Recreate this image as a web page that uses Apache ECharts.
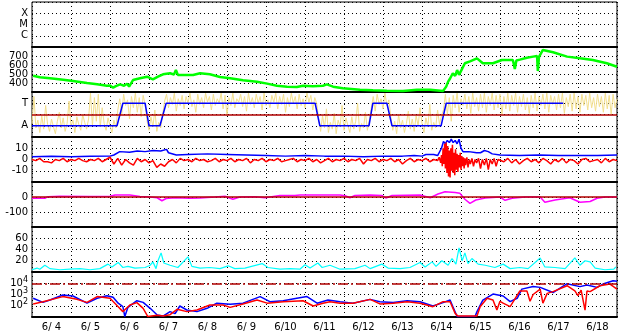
<!DOCTYPE html>
<html><head><meta charset="utf-8">
<script src="https://cdn.jsdelivr.net/npm/echarts@6/dist/echarts.min.js"></script>
<style>html,body{margin:0;padding:0;background:#fff}#c{width:628px;height:334px}</style>
</head><body><div id="c"></div><script>
// x is days since 6/4 00:00
const dayLabels = ['6/ 4','6/ 5','6/ 6','6/ 7','6/ 8','6/ 9','6/10','6/11','6/12','6/13','6/14','6/15','6/16','6/17','6/18'];
const flareLabels = {1:'C', 2:'M', 3:'X'};
const sectorLabels = {1:'A', 3:'T'};
const logLabels = {100:'2', 1000:'3', 10000:'4'};

const flares = [];

const speed = [[0.03,481],[0.2,463],[0.46,452],[0.8,437],[1.05,422],[1.41,400],[1.67,385],[1.92,370],[2.0,372],[2.08,348],[2.15,365],[2.26,385],[2.36,370],[2.44,392],[2.49,360],[2.59,433],[2.77,452],[2.95,470],[3.1,441],[3.23,470],[3.36,497],[3.54,508],[3.64,495],[3.69,544],[3.74,490],[3.87,489],[4.13,489],[4.31,508],[4.56,497],[4.82,467],[5.08,452],[5.41,430],[5.77,415],[6.03,393],[6.28,370],[6.54,359],[6.79,355],[6.95,370],[7.2,363],[7.46,370],[7.56,385],[7.72,359],[7.97,341],[8.41,326],[8.74,319],[9.1,315],[9.51,311],[9.87,326],[10.21,326],[10.54,311],[10.62,360],[10.67,415],[10.72,450],[10.79,508],[10.85,480],[10.9,544],[10.95,490],[10.97,470],[11.03,560],[11.1,619],[11.23,640],[11.41,674],[11.56,619],[11.82,619],[12.05,656],[12.33,656],[12.38,556],[12.42,650],[12.51,660],[12.69,681],[12.85,693],[12.95,700],[12.97,533],[13.0,690],[13.1,767],[13.36,741],[13.72,693],[14.05,674],[14.38,656],[14.74,619],[15.0,581]];

// IMF angle, sampled every 0.05 day from 6/4 00:00 (0..4 panel scale, A=1, T=3)
const phiStep = 0.05;
const phi = [
1.2,3.6,0.8,1.5,0.4,1.9,0.7,2.8,1.1,0.5,1.6,0.9,0.3,1.4,2.2,0.8,1.7,0.5,1.2,3.2,
0.9,1.5,0.4,1.8,1.1,0.6,2.0,1.3,0.7,1.6,3.9,1.0,3.5,1.4,3.8,0.9,2.6,1.2,0.6,1.7,
1.0,0.4,1.5,0.8,
2.4,3.4,2.0,3.8,2.8,3.3,1.6,3.6,2.6,3.9,2.2,3.5,1.8,3.7,2.9,
1.4,0.6,1.8,0.9,2.4,0.5,1.3,0.8,2.0,
3.2,3.8,2.6,3.5,2.9,3.9,2.3,3.4,2.8,3.7,
2.5,3.6,3.0,3.9,2.7,3.3,2.2,3.8,2.9,3.5,
2.6,3.9,3.1,3.6,2.4,3.8,2.8,3.4,3.0,3.9,
2.5,3.7,1.9,3.5,2.8,3.9,2.6,3.4,3.1,3.8,
2.7,3.6,2.3,3.9,2.9,3.5,2.6,3.8,3.0,3.6,
2.4,3.9,2.8,3.3,2.6,3.7,3.1,3.9,2.5,3.6,
2.9,3.8,2.2,3.5,2.7,3.9,3.0,3.6,2.5,3.8,
2.8,3.4,2.6,3.9,3.1,3.7,2.4,3.5,3.0,
1.6,0.5,1.9,0.8,2.5,0.4,1.3,0.7,2.1,0.3,1.5,0.9,2.8,0.6,1.7,1.0,0.4,1.8,0.7,1.4,3.0,0.5,1.2,0.8,2.2,0.6,1.5,
2.6,3.6,2.3,3.8,2.9,3.4,2.5,3.9,2.8,3.3,
1.8,0.6,1.4,0.3,2.0,0.8,1.5,0.4,1.2,2.3,0.7,1.6,0.5,1.9,1.0,2.6,1.2,0.4,1.7,0.9,2.9,0.6,1.3,0.8,2.4,1.1,1.9,
2.4,3.8,2.0,3.5,1.4,3.7,2.6,3.9,2.2,3.4,
2.8,3.8,2.5,3.6,2.1,3.9,2.7,3.5,2.3,3.8,
2.6,3.9,2.2,3.6,2.8,3.9,2.4,3.7,2.6,3.8,
2.0,3.6,2.5,3.9,2.3,3.7,2.8,3.9,2.2,3.6,
2.7,3.8,2.4,3.5,2.1,3.7,2.6,3.9,2.3,3.6,
2.8,3.8,2.5,3.9,2.2,3.7,2.9,3.6,2.4,3.8,
2.6,3.9,2.1,3.5,2.7,3.8,2.3,3.9,2.5,3.6,
2.2,3.8,2.8,3.7,2.4,3.9,2.6,3.5,2.3,3.8,
2.7,3.6,2.2,3.9,2.5,3.7,2.0,3.8,2.6,3.4];

const sector = [[0,1],[2.18,1],[2.33,3],[2.9,3],[3.0,1],[3.28,1],[3.44,3],[7.26,3],[7.38,1],[8.64,1],[8.74,3],[9.1,3],[9.23,1],[10.49,1],[10.62,3],[13.62,3]];

const bt = [[0,2.5],[0.5,2.8],[1.0,2.5],[1.5,2.8],[2.0,3.0],[2.1,4],[2.25,7],[2.5,6.5],[2.7,7.5],[2.9,7],[3.1,8],[3.3,7.5],[3.45,9],[3.5,6],[3.7,4],[4.0,4.5],[4.5,5],[5.0,4.5],[5.5,4],[6.0,3.5],[6.5,3],[7.0,3.5],[7.5,3],[8.0,3],[8.5,2.5],[9.0,3],[9.5,3],[9.8,3.5],[10.0,3],[10.1,4.5],[10.3,4.5],[10.4,3.5],[10.5,10],[10.55,16],[10.6,14],[10.65,17],[10.7,15],[10.75,18],[10.8,15],[10.85,17],[10.9,14],[10.95,18],[11.0,10],[11.05,7],[11.2,7],[11.4,6],[11.5,6],[11.6,8],[11.7,7],[11.8,5],[12.0,4],[12.5,3.5],[13.0,4],[13.5,3.5],[14.0,3.5],[14.5,3.5],[15.0,4]];

// Bz before the storm, every 0.1 day from 0 to 10.3
const bzQuietStep = 0.1;
const bzQuiet = [
0,-1,1,-2,-2,-3,0,-1,1,-2,
0,-1,1,-1,-2,0,-1,1,-2,0,
2,-4,1,-5,0,-3,-5,1,-2,0,
-3,-1,-7,-4,-6,-2,0,-3,1,-1,
0,-2,1,-1,0,-2,-1,1,-2,0,
-1,1,-2,0,-1,1,-3,0,-1,1,
-2,0,-1,1,-2,-1,0,1,-2,0,
-1,1,-2,0,-3,-1,1,-2,0,-1,
1,-2,0,-1,1,-4,0,-1,1,-2,
0,-1,1,-2,0,-4,-1,1,-2,0,
-1,1,-2,0];
const bzStorm = [[10.4,-1],[10.44,2],[10.48,-3],[10.5,4],[10.52,-6],[10.54,10],[10.56,-4],[10.58,14],[10.6,-8],[10.62,15],[10.64,-12],[10.66,12],[10.68,-15],[10.7,8],[10.72,-16],[10.74,10],[10.76,-10],[10.78,13],[10.8,-12],[10.82,6],[10.84,-14],[10.86,9],[10.88,-9],[10.9,5],[10.92,-11],[10.94,4],[10.96,-7],[10.98,6],[11.0,-9],[11.02,3],[11.04,-6],[11.06,2],[11.08,-8],[11.1,1],[11.12,-5],[11.15,2],[11.18,-7],[11.21,0],[11.24,-4],[11.28,1],[11.32,-6],[11.36,0],[11.4,-3],[11.45,1],[11.5,-8],[11.55,0],[11.6,-5],[11.65,1],[11.7,-9],[11.75,0],[11.8,-4],[11.85,1],[11.9,-6],[11.95,0]];
// Bz after, every 0.1 day from 12.0 to 15.0
const bzLateStart = 12.0;
const bzLate = [0,-2,1,-3,0,-4,-1,1,-2,0,-3,1,-1,-4,0,-2,1,-3,0,-1,-4,0,1,-2,-1,0,-3,1,-2,0,-1];

const dst = [[0,-9],[0.33,-9],[0.41,2],[0.72,5],[1.49,3],[2.0,5],[2.13,13],[2.51,13],[2.77,3],[3.03,0],[3.21,-5],[3.33,-25],[3.44,-10],[3.67,-5],[4.05,-8],[4.31,-6],[4.69,0],[4.95,5],[5.15,-15],[5.33,0],[5.72,2],[5.97,-5],[6.36,10],[6.74,10],[6.87,13],[7.38,13],[7.9,13],[8.03,8],[8.15,-5],[8.28,10],[8.67,13],[8.97,10],[9.08,-7],[9.23,10],[9.95,13],[10.21,-5],[10.41,20],[10.59,35],[10.85,30],[10.97,25],[11.1,-15],[11.23,-42],[11.38,-20],[11.62,-7],[12.0,0],[12.13,-22],[12.31,-8],[12.64,0],[13.03,0],[13.15,-35],[13.41,-20],[13.79,-5],[14.05,-35],[14.31,-30],[14.49,-8],[14.69,0],[15,0]];

const kp = [[0,4],[0.13,7],[0.2,5],[0.33,12],[0.46,6],[0.72,4],[0.97,5],[1.23,6],[1.49,4],[1.74,6],[1.95,14],[2.05,9],[2.21,17],[2.33,8],[2.46,10],[2.64,7],[2.9,8],[3.03,12],[3.1,18],[3.18,6],[3.23,20],[3.31,34],[3.38,16],[3.54,12],[3.74,8],[4.0,27],[4.1,10],[4.31,7],[4.56,8],[4.82,6],[5.03,11],[5.2,6],[5.46,7],[5.9,15],[6.05,8],[6.36,5],[6.62,6],[6.87,5],[7.0,13],[7.13,7],[7.33,16],[7.44,8],[7.64,12],[7.9,5],[8.28,6],[8.54,12],[8.67,6],[8.97,14],[9.13,7],[9.44,6],[9.69,8],[9.95,17],[10.08,9],[10.26,18],[10.36,10],[10.51,20],[10.67,12],[10.77,24],[10.87,14],[10.95,43],[11.03,20],[11.1,34],[11.18,15],[11.28,24],[11.44,14],[11.62,12],[11.87,8],[12.08,14],[12.26,6],[12.51,8],[12.72,6],[13.03,25],[13.15,9],[13.41,8],[13.67,6],[13.92,25],[14.05,12],[14.18,20],[14.31,18],[14.44,7],[14.69,4],[14.92,5],[14.97,9]];

const fluxBlue = [[0.03,460],[0.28,200],[0.46,320],[0.79,910],[1.05,740],[1.41,170],[1.67,460],[1.92,780],[2.08,560],[2.21,170],[2.33,83],[2.38,11],[2.46,72],[2.69,280],[2.85,200],[3.03,59],[3.21,15],[3.36,12],[3.54,30],[3.67,20],[3.79,95],[3.97,42],[4.23,30],[4.49,59],[4.74,170],[5.08,135],[5.41,170],[5.85,650],[6.1,230],[6.44,280],[6.79,460],[7.05,650],[7.31,170],[7.59,320],[7.64,280],[7.9,230],[8.23,170],[8.67,370],[8.92,230],[9.26,190],[9.62,280],[9.95,230],[10.28,95],[10.54,190],[10.72,320],[10.79,83],[10.9,11],[11.15,11],[11.36,11],[11.41,30],[11.56,320],[11.82,1100],[12.08,740],[12.26,230],[12.44,460],[12.56,3000],[12.85,5200],[13.03,4300],[13.36,1500],[13.72,9100],[14.05,5000],[14.23,7000],[14.49,4300],[14.64,8500],[14.9,16600],[15.0,15000]];
const fluxRed = [[0.03,145],[0.28,230],[0.79,650],[1.15,370],[1.41,200],[1.67,650],[2.0,460],[2.21,83],[2.33,30],[2.51,117],[2.69,190],[2.85,59],[2.97,11],[3.21,14],[3.36,12],[3.54,16],[3.72,48],[3.97,30],[4.23,42],[4.56,117],[4.9,117],[5.08,72],[5.41,145],[5.77,320],[6.03,170],[6.44,230],[6.95,280],[7.21,95],[7.46,170],[7.64,230],[7.9,170],[8.23,170],[8.67,370],[8.92,145],[9.26,170],[9.62,230],[9.95,170],[10.28,83],[10.54,230],[10.72,230],[10.85,21],[10.92,12],[11.41,12],[11.49,83],[11.67,460],[11.82,320],[11.92,42],[12.0,250],[12.08,170],[12.26,83],[12.51,2100],[12.69,2100],[12.77,250],[12.85,1000],[13.03,3000],[13.1,170],[13.21,1260],[13.36,1800],[13.72,6000],[13.92,2100],[14.0,800],[14.08,2500],[14.18,40],[14.23,2000],[14.31,1800],[14.56,6000],[14.82,8500],[15.0,3000]];

// ---- build ----
const phiData = phi.map((v,i)=>[+(i*phiStep).toFixed(3), v]);
const bzData = bzQuiet.map((v,i)=>[+(i*bzQuietStep).toFixed(3), v])
  .concat(bzStorm)
  .concat(bzLate.map((v,i)=>[+(bzLateStart+i*0.1).toFixed(3), v]));

const FONT = 'DejaVu Sans';
const DARKRED = '#b00000';
const panels = 7, top0 = 2, ph = 45;
const grids = [], xAxes = [], yAxes = [], series = [];
const dotted = {color:'#000', width:1, type:[1,3]};
for (let i=0;i<panels;i++){
  grids.push({left:32, right:11, top: top0+ph*i, height: ph, show:true, borderColor:'#000', borderWidth:1, backgroundColor:'transparent'});
  xAxes.push({type:'value', gridIndex:i, min:0, max:15, interval:1, axisLabel:{show:false}, axisTick:{show:false},
    axisLine:{show:true, onZero:false, lineStyle:{color:'#000', width:2}}, splitLine:{show:true, lineStyle:dotted}});
}
// label axis for days, centred in each day
xAxes.push({type:'category', gridIndex:6, data:dayLabels, boundaryGap:true, position:'bottom', axisLine:{show:false}, axisTick:{show:false}, splitLine:{show:false}, axisLabel:{fontFamily:FONT, fontSize:10, color:'#000', margin:5, interval:0}});

const yl = (fmt)=>({show:true, fontFamily:FONT, fontSize:10, color:'#000', margin:4, showMinLabel:false, showMaxLabel:false, formatter:fmt});
const yCommon = {axisLine:{show:false}, axisTick:{show:false}, splitLine:{lineStyle:dotted}};
yAxes.push(Object.assign({type:'value', gridIndex:0, min:0, max:4, interval:1, axisLabel:yl(v=>flareLabels[v]||'')}, yCommon));
yAxes.push(Object.assign({type:'value', gridIndex:1, min:300, max:800, interval:100, axisLabel:yl(v=>String(v))}, yCommon));
yAxes.push(Object.assign({type:'value', gridIndex:2, min:0, max:4, interval:1, axisLabel:yl(v=>sectorLabels[v]||'')}, yCommon));
yAxes.push(Object.assign({type:'value', gridIndex:3, min:-20, max:20, interval:10, axisLabel:yl(v=>String(v))}, yCommon));
yAxes.push(Object.assign({type:'value', gridIndex:4, min:-200, max:100, interval:100, axisLabel:yl(v=>String(v))}, yCommon));
yAxes.push(Object.assign({type:'value', gridIndex:5, min:0, max:80, interval:20, axisLabel:yl(v=>String(v))}, yCommon));
yAxes.push(Object.assign({type:'log', logBase:10, gridIndex:6, min:10, max:100000,
  axisLabel:{show:true, fontFamily:FONT, fontSize:10, color:'#000', margin:4, showMinLabel:false, showMaxLabel:false,
    formatter:v=>logLabels[Math.round(v)]?('10{s|'+logLabels[Math.round(v)]+'}'):'',
    rich:{s:{fontFamily:FONT, fontSize:8, padding:[0,0,7,0]}}}}, yCommon));

const ln = (idx, data, color, w, extra)=>Object.assign({type:'line', xAxisIndex:idx, yAxisIndex:idx, data, symbol:'none', animation:false, silent:true, lineStyle:{color, width:w}}, extra||{});
const ml = (val, type)=>({markLine:{silent:true, symbol:'none', label:{show:false}, lineStyle:{color:DARKRED, width:1.5, type}, data:[{yAxis:val}]}});

series.push(ln(0, flares, '#000', 1));
series.push(ln(1, speed, '#00ff00', 2.5));
series.push(ln(2, phiData, '#f3df8e', 1));
series.push(ln(2, sector, '#0000ff', 1.5, ml(2,'solid')));
series.push(ln(3, bt, '#0000ff', 1.5));
series.push(ln(3, bzData, '#ff0000', 1.5));
series.push(ln(4, dst, '#ff00ff', 1.5, ml(0,'solid')));
series.push(ln(5, kp, '#00ffff', 1.2));
series.push(ln(6, fluxBlue, '#0000ff', 1.5, ml(10000,[10,3,2,3])));
series.push(ln(6, fluxRed, '#ff0000', 1.5));

const chart = echarts.init(document.getElementById('c'), null, {renderer:'canvas'});
chart.setOption({animation:false, backgroundColor:'#fff', grid:grids, xAxis:xAxes, yAxis:yAxes, series});
</script></body></html>
